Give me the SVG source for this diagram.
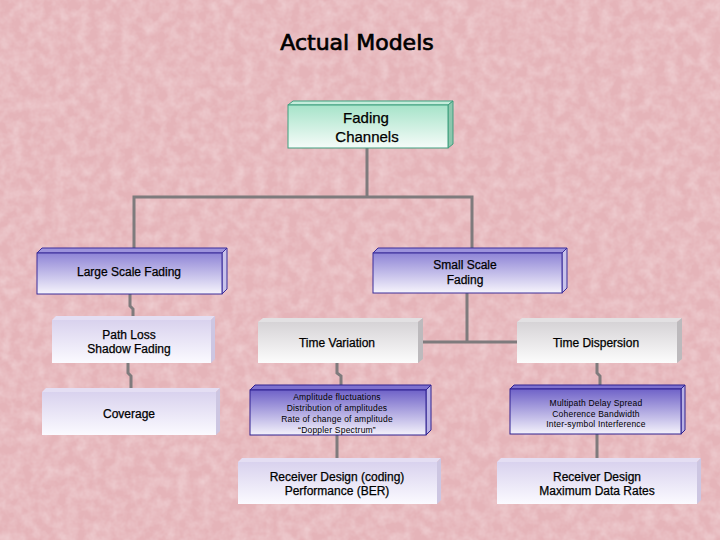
<svg xmlns="http://www.w3.org/2000/svg" width="720" height="540" viewBox="0 0 720 540">
<defs>
<filter id="tex" x="0" y="0" width="100%" height="100%">
<feTurbulence type="fractalNoise" baseFrequency="0.09" numOctaves="3" seed="4" result="n"/>
<feColorMatrix in="n" type="matrix" values="0 0 0 0 0.96  0 0 0 0 0.85  0 0 0 0 0.86  0 0 0 0.7 -0.22"/>
</filter>
<linearGradient id="gTeal" x1="0" y1="0" x2="0" y2="1"><stop offset="0" stop-color="#a6e3c9"/><stop offset="1" stop-color="#f6fcf9"/></linearGradient>
<linearGradient id="gPurple" x1="0" y1="0" x2="0" y2="1"><stop offset="0" stop-color="#8e84d6"/><stop offset="1" stop-color="#f6f4fc"/></linearGradient>
<linearGradient id="gDeep" x1="0" y1="0" x2="0" y2="1"><stop offset="0" stop-color="#6f62c8"/><stop offset="1" stop-color="#f4f2fb"/></linearGradient>
<linearGradient id="gLav" x1="0" y1="0" x2="0" y2="1"><stop offset="0" stop-color="#d9d2ee"/><stop offset="1" stop-color="#fbfaff"/></linearGradient>
<linearGradient id="gGray" x1="0" y1="0" x2="0" y2="1"><stop offset="0" stop-color="#d6d3d6"/><stop offset="1" stop-color="#fcfcfc"/></linearGradient>
</defs>
<style>
.t{font-family:"Liberation Sans",Arial,sans-serif;font-size:12px;fill:#000;stroke:#000;stroke-width:0.25px;text-anchor:middle}
.s{font-family:"Liberation Sans",Arial,sans-serif;font-size:8.5px;fill:#000;text-anchor:middle;letter-spacing:0.2px}
.title{font-family:"DejaVu Sans",sans-serif;font-size:22px;fill:#000;stroke:#000;stroke-width:0.7px;text-anchor:middle}
.c{fill:none;stroke:#7f7b7d;stroke-width:3}
.teal .f{fill:url(#gTeal);stroke:#3f9f7f;stroke-width:1}
.teal .tp{fill:#c4ecdb;stroke:#3f9f7f;stroke-width:1}
.teal .sd{fill:#8cc6ad;stroke:#3f9f7f;stroke-width:1}
.pur .f{fill:url(#gPurple);stroke:#3a2c9a;stroke-width:1}
.pur .tp{fill:#9d93dc;stroke:#3a2c9a;stroke-width:1}
.pur .sd{fill:#c9c3ea;stroke:#3a2c9a;stroke-width:1}
.deep .f{fill:url(#gDeep);stroke:#2e2090;stroke-width:1}
.deep .tp{fill:#7d70cf;stroke:#2e2090;stroke-width:1}
.deep .sd{fill:#b9b1e4;stroke:#2e2090;stroke-width:1}
.lav .f{fill:url(#gLav)}
.lav .tp{fill:#e4def3}
.lav .sd{fill:#cdc6e2}
.gray .f{fill:url(#gGray)}
.gray .tp{fill:#e2e0e2}
.gray .sd{fill:#bdbabd}
</style>
<rect width="720" height="540" fill="#e5b4b9"/>
<rect width="720" height="540" filter="url(#tex)"/>
<text class="title" x="357" y="50">Actual Models</text>

<g id="connectors">
<polyline class="c" points="367,148 367,197"/>
<polyline class="c" points="134,252 134,197 472,197 472,252"/>
<polyline class="c" points="130,294 130,306 133,309 133,318"/>
<polyline class="c" points="467,293 467,342"/>
<polyline class="c" points="422,342 517,342"/>
<polyline class="c" points="128,363 128,373 131,376 131,391"/>
<polyline class="c" points="337,363 337,373 341,376 341,386"/>
<polyline class="c" points="337,435 337,460"/>
<polyline class="c" points="597,363 597,373 600,376 600,386"/>
<polyline class="c" points="597,434 597,460"/>
</g>

<g id="fading-channels" class="teal">
<polygon class="tp" points="288,105 293,101 453,101 448,105"/>
<polygon class="sd" points="448,105 453,101 453,144 448,148"/>
<rect class="f" x="288" y="105" width="160" height="43"/>
<text class="t" x="366" y="123" style="font-size:15px">Fading</text>
<text class="t" x="367" y="142" style="font-size:15px">Channels</text>
</g>

<g id="large-scale" class="pur">
<polygon class="tp" points="37,253 42,248 227,248 222,253"/>
<polygon class="sd" points="222,253 227,248 227,289 222,294"/>
<rect class="f" x="37" y="253" width="185" height="41"/>
<text class="t" x="129" y="276">Large Scale Fading</text>
</g>

<g id="small-scale" class="pur">
<polygon class="tp" points="373,253 378,248 567,248 562,253"/>
<polygon class="sd" points="562,253 567,248 567,288 562,293"/>
<rect class="f" x="373" y="253" width="189" height="40"/>
<text class="t" x="465" y="269">Small Scale</text>
<text class="t" x="465" y="284">Fading</text>
</g>

<g id="path-loss" class="lav">
<polygon class="tp" points="52,320 56,316 215,316 211,320"/>
<polygon class="sd" points="211,320 215,316 215,359 211,363"/>
<rect class="f" x="52" y="320" width="159" height="43"/>
<text class="t" x="129" y="339">Path Loss</text>
<text class="t" x="129" y="353">Shadow Fading</text>
</g>

<g id="coverage" class="lav">
<polygon class="tp" points="42,392 46,388 220,388 216,392"/>
<polygon class="sd" points="216,392 220,388 220,431 216,435"/>
<rect class="f" x="42" y="392" width="174" height="43"/>
<text class="t" x="129" y="418">Coverage</text>
</g>

<g id="time-variation" class="gray">
<polygon class="tp" points="258,322 263,318 423,318 418,322"/>
<polygon class="sd" points="418,322 423,318 423,359 418,363"/>
<rect class="f" x="258" y="322" width="160" height="41"/>
<text class="t" x="337" y="347">Time Variation</text>
</g>

<g id="time-dispersion" class="gray">
<polygon class="tp" points="517,322 522,318 682,318 677,322"/>
<polygon class="sd" points="677,322 682,318 682,359 677,363"/>
<rect class="f" x="517" y="322" width="160" height="41"/>
<text class="t" x="596" y="347">Time Dispersion</text>
</g>

<g id="amplitude" class="deep">
<polygon class="tp" points="250,390 255,385 431,385 426,390"/>
<polygon class="sd" points="426,390 431,385 431,430 426,435"/>
<rect class="f" x="250" y="390" width="176" height="45"/>
<text class="s" x="337" y="400">Amplitude fluctuations</text>
<text class="s" x="337" y="411">Distribution of amplitudes</text>
<text class="s" x="337" y="422">Rate of change of amplitude</text>
<text class="s" x="337" y="433">“Doppler Spectrum”</text>
</g>

<g id="multipath" class="deep">
<polygon class="tp" points="510,389 514,385 685,385 681,389"/>
<polygon class="sd" points="681,389 685,385 685,430 681,434"/>
<rect class="f" x="510" y="389" width="171" height="45"/>
<text class="s" x="596" y="406">Multipath Delay Spread</text>
<text class="s" x="596" y="417">Coherence Bandwidth</text>
<text class="s" x="596" y="427">Inter-symbol Interference</text>
</g>

<g id="receiver-coding" class="lav">
<polygon class="tp" points="238,462 242,458 441,458 437,462"/>
<polygon class="sd" points="437,462 441,458 441,500 437,504"/>
<rect class="f" x="238" y="462" width="199" height="42"/>
<text class="t" x="337" y="481">Receiver Design (coding)</text>
<text class="t" x="337" y="495">Performance (BER)</text>
</g>

<g id="receiver-rates" class="lav">
<polygon class="tp" points="497,462 501,458 701,458 697,462"/>
<polygon class="sd" points="697,462 701,458 701,500 697,504"/>
<rect class="f" x="497" y="462" width="200" height="42"/>
<text class="t" x="597" y="481">Receiver Design</text>
<text class="t" x="597" y="495">Maximum Data Rates</text>
</g>
</svg>
